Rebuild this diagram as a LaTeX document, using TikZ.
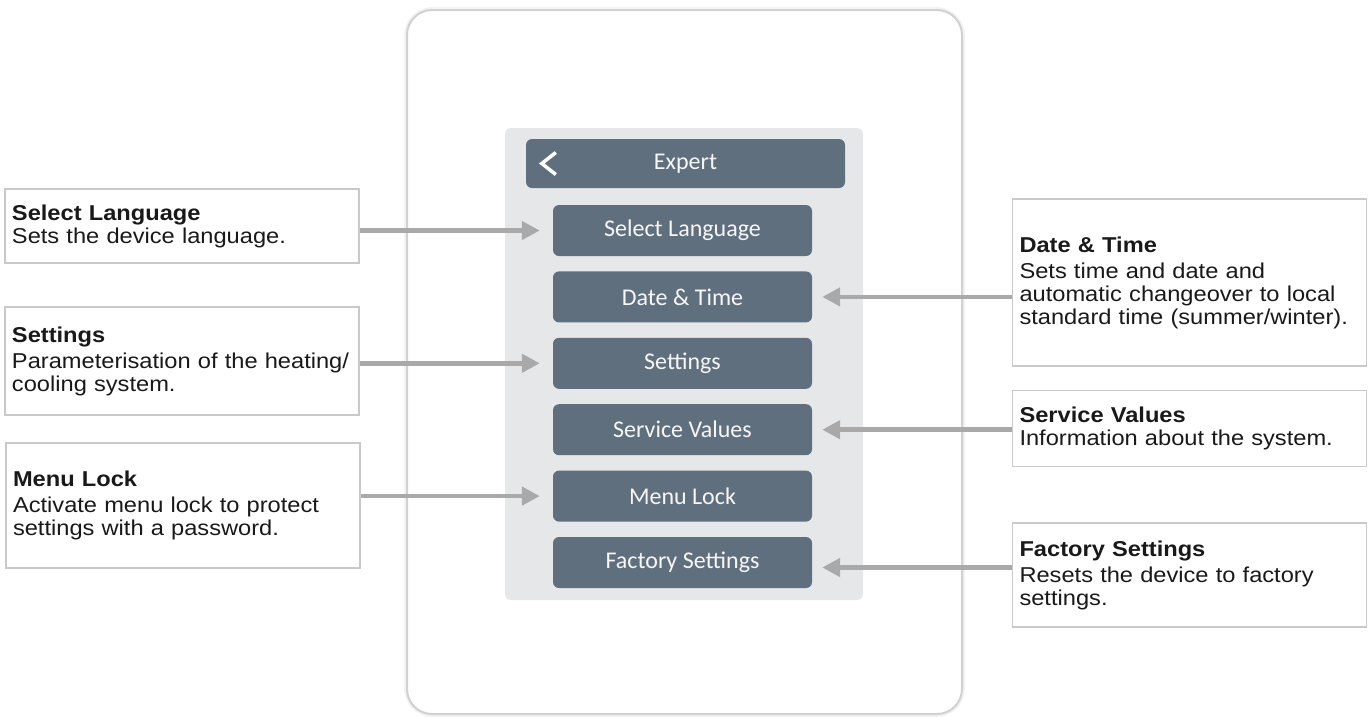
\documentclass[tikz,border=0pt]{standalone}
\usepackage{fontspec}
\setmainfont{Liberation Sans}
\newfontfamily\descfont[FakeStretch=1.1]{Liberation Sans}
\newfontfamily\btnfont{Carlito}
\usetikzlibrary{arrows.meta,positioning}
\definecolor{slate}{HTML}{606F7E}
\definecolor{panelgray}{HTML}{E6E7E9}
\definecolor{arrowgray}{HTML}{A9A9A9}
\definecolor{boxgray}{HTML}{C9C9C9}

\begin{document}
\begin{tikzpicture}[x=1pt,y=-1pt,node distance=66.4pt,>={Triangle[length=18pt,width=18pt]}]
  \tikzstyle{menu}=[rectangle,rounded corners=6pt,fill=slate,text=white!94!slate,minimum width=259pt,minimum height=51pt,font=\btnfont\fontsize{24}{26}\selectfont]
  \tikzstyle{info}=[rectangle,draw=boxgray,line width=1.5pt,fill=white,align=left,text width=340pt,inner xsep=7pt,text=black!90,font=\descfont\fontsize{21.5}{23}\selectfont]
  \tikzstyle{link}=[->,draw=arrowgray,line width=4.5pt]

  \useasboundingbox (0,0) rectangle (1371,716);

  % Device frame and menu panel.
  \draw [black!5,line width=6pt,rounded corners=26pt] (407,10) rectangle (962,714);
  \draw [fill=white,draw=black!18,line width=2pt,rounded corners=25pt] (407,10) rectangle (962,714);
  \fill [panelgray,rounded corners=6pt] (505,128) rectangle (863,600);

  % Menu entries.
  \node [menu,minimum width=319pt,minimum height=49pt] (hd) at (685.5,163.5) {Expert};
  \draw [white,line width=3.5pt] ([xshift=30pt,yshift=11pt]hd.west) -- ([xshift=16pt]hd.west) -- ([xshift=30pt,yshift=-11pt]hd.west);
  \node [menu] (b1) at (682.5,230.5) {Select Language};
  \node [menu] (b2) [below of=b1] {Date \& Time};
  \node [menu] (b3) [below of=b2] {Settings};
  \node [menu] (b4) [below of=b3] {Service Values};
  \node [menu] (b5) [below of=b4] {Menu Lock};
  \node [menu] (b6) [below of=b5] {Factory Settings};

  % Left descriptions.
  \node [info,minimum height=74pt] (sl) at (182,226) {\textbf{Select Language}\\Sets the device language.};
  \node [info,minimum height=108pt] (set) at (182,361) {\textbf{Settings}\\[3pt]Parameterisation of the heating/\\cooling system.};
  \node [info,minimum height=125pt] (ml) at (183,505.5) {\textbf{Menu Lock}\\[3pt]Activate menu lock to protect\\settings with a password.};

  % Right descriptions.
  \node [info,minimum height=167pt] (dt) at (1189.5,282.5) {\textbf{Date \& Time}\\[3pt]Sets time and date and\\automatic changeover to local\\standard time (summer/winter).};
  \node [info,minimum height=76pt] (sv) at (1189.5,428.5) {\textbf{Service Values}\\Information about the system.};
  \node [info,minimum height=104pt] (fs) at (1189.5,575) {\textbf{Factory Settings}\\[3pt]Resets the device to factory\\settings.};

  \draw [link] (sl.east |- b1) -- ([xshift=-13pt]b1.west);
  \draw [link] (set.east |- b3) -- ([xshift=-13pt]b3.west);
  \draw [link] (ml.east |- b5) -- ([xshift=-13pt]b5.west);
  \draw [link] (dt.west |- b2) -- ([xshift=10pt]b2.east);
  \draw [link] (sv.west |- b4) -- ([xshift=10pt]b4.east);
  \draw [link] ([yshift=-5pt]fs.west |- b6) -- ([xshift=10pt,yshift=-5pt]b6.east);
\end{tikzpicture}
\end{document}
